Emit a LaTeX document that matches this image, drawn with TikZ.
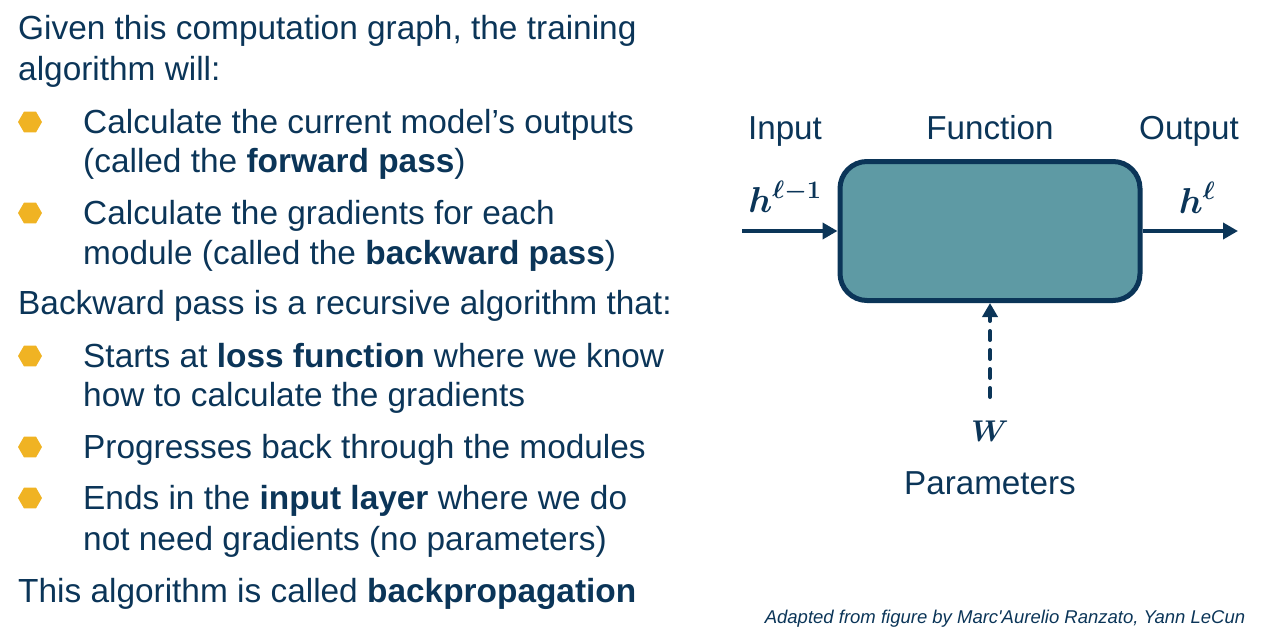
\RequirePackage{fix-cm}
\documentclass[tikz,border=0pt]{standalone}
\usepackage{amsmath}
\usepackage{bm}
\usepackage{fontspec}
\setmainfont{Liberation Sans}
\usetikzlibrary{arrows.meta,shapes.geometric}
\definecolor{navy}{HTML}{0B3558}
\definecolor{teal}{HTML}{5E9AA4}
\definecolor{bulletorange}{HTML}{F0B323}
\begin{document}
\begin{tikzpicture}[x=1pt,y=-1pt,
  txt/.style={anchor=base west,inner sep=0pt,text=navy,font=\fontsize{33.4}{40}\selectfont},
  lbl/.style={anchor=base,inner sep=0pt,text=navy,font=\fontsize{33.2}{40}\selectfont},
  mth/.style={anchor=base,inner sep=0pt,text=navy,font=\fontsize{36}{42}\selectfont},
  hexbullet/.style={regular polygon,regular polygon sides=6,fill=bulletorange,draw=none,inner sep=0pt,minimum size=24pt},
  fbox/.style={draw=navy,fill=teal,line width=5pt,rounded corners=27pt,minimum width=300pt,minimum height=139pt},
  flow/.style={draw=navy,line width=4.5pt,-{Triangle[length=15pt,width=16pt]}},
  param/.style={draw=navy,line width=4pt,line cap=round,dash pattern=on 9pt off 10pt,-{Triangle[length=14pt,width=15pt]}}
]
\useasboundingbox (0,0) rectangle (1280,634);

% left text
\node[txt] (l1) at (18,40) {Given this computation graph, the training};
\node[txt] (l2) at (18,81) {algorithm will:};
\node[hexbullet] (b1) at (30,122) {};
\node[txt] (l3) at (83,133.5) {Calculate the current model’s outputs};
\node[txt] (l4) at (83,172.5) {(called the \textbf{forward pass})};
\node[hexbullet] (b2) at (30,213) {};
\node[txt] (l5) at (83,224.5) {Calculate the gradients for each};
\node[txt] (l6) at (83,264.5) {module (called the \textbf{backward pass})};
\node[txt] (l7) at (18,314.5) {Backward pass is a recursive algorithm that:};
\node[hexbullet] (b3) at (30,356) {};
\node[txt] (l8) at (83,367.5) {Starts at \textbf{loss function} where we know};
\node[txt] (l9) at (83,406.5) {how to calculate the gradients};
\node[hexbullet] (b4) at (30,447) {};
\node[txt] (l10) at (83,458.5) {Progresses back through the modules};
\node[hexbullet] (b5) at (30,498) {};
\node[txt] (l11) at (83,509.5) {Ends in the \textbf{input layer} where we do};
\node[txt] (l12) at (83,550.5) {not need gradients (no parameters)};
\node[txt] (l13) at (18,602) {This algorithm is called \textbf{backpropagation}};

% diagram
\node[fbox] (f) at (990,231) {};
\node[lbl] (tin) at (785,139) {Input};
\node[lbl] (tfn) at (990,139) {Function};
\node[lbl] (tout) at (1189,139) {Output};
\node[mth] (hin) at (785,212) {$\bm{h}^{\bm{\ell-1}}$};
\node[mth] (hout) at (1197,213) {$\bm{h}^{\bm{\ell}}$};
\node[lbl,font=\fontsize{30}{36}\selectfont] (w) at (990,441) {$\bm{W}$};
\node[lbl] (tpar) at (990,494) {Parameters};
\coordinate (inS) at (742,231);
\coordinate (outE) at (1238,231);
\coordinate (parS) at (990,397);
\draw[flow] (inS) -- (f.west);
\draw[flow] (f.east) -- (outE);
\draw[param] (parS) -- (f.south);

\node[anchor=base,inner sep=0pt,text=navy,font=\fontsize{18.5}{22}\selectfont\itshape] (cap) at (1005,623) {Adapted from figure by Marc\textquotesingle Aurelio Ranzato, Yann LeCun};
\end{tikzpicture}
\end{document}
